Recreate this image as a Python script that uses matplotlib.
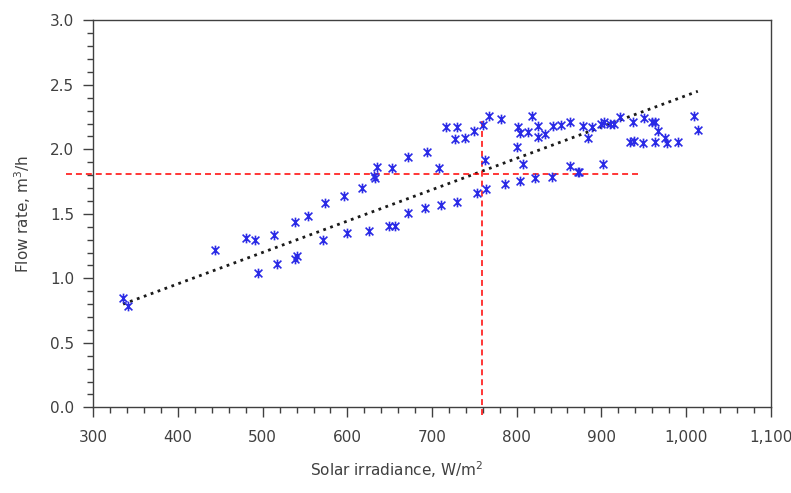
import matplotlib
matplotlib.use("Agg")
import matplotlib.pyplot as plt
from matplotlib.path import Path
from matplotlib.ticker import MultipleLocator, FuncFormatter

# ---- data ----
irradiance = [335, 341, 444, 480, 491, 494, 513, 517, 538, 538, 540, 554, 571, 573,
              596, 600, 617, 626, 631, 633, 635, 649, 656, 653, 672, 672, 692, 694,
              708, 710, 717, 730, 727, 739, 730, 750, 760, 763, 753, 764, 767, 781,
              818, 801, 804, 813, 825, 825, 834, 843, 852, 863, 878, 884, 889, 900,
              903, 910, 915, 922, 800, 808, 786, 804, 822, 842, 863, 872, 874, 902,
              938, 951, 960, 964, 967, 934, 939, 949, 963, 975, 978, 991, 1010, 1014]
flow_rate = [0.85, 0.785, 1.22, 1.315, 1.30, 1.045, 1.335, 1.11, 1.44, 1.15, 1.175, 1.485,
             1.30, 1.58, 1.64, 1.355, 1.70, 1.37, 1.79, 1.78, 1.865, 1.405, 1.405, 1.857,
             1.94, 1.505, 1.547, 1.98, 1.857, 1.568, 2.175, 2.175, 2.08, 2.085, 1.594,
             2.142, 2.188, 1.917, 1.659, 1.692, 2.26, 2.235, 2.26, 2.175, 2.13, 2.132,
             2.183, 2.098, 2.116, 2.183, 2.185, 2.208, 2.183, 2.085, 2.175, 2.20, 2.208,
             2.196, 2.20, 2.25, 2.02, 1.89, 1.73, 1.757, 1.775, 1.788, 1.871, 1.826,
             1.826, 1.886, 2.214, 2.24, 2.214, 2.209, 2.144, 2.054, 2.064, 2.046, 2.054,
             2.085, 2.046, 2.054, 2.26, 2.15]

trend_x = [335, 1014]
trend_y = [0.80, 2.45]

ref_x = 759
ref_y = 1.81
ref_hline_x = [268, 944]
ref_vline_y = [-0.06, 2.22]

x_ticks = [300, 400, 500, 600, 700, 800, 900, 1000, 1100]
y_ticks = [0.0, 0.5, 1.0, 1.5, 2.0, 2.5, 3.0]

# ---- figure ----
plt.rcParams['font.family'] = ['DejaVu Sans']
fig = plt.figure(figsize=(7.91, 4.93), dpi=100)
ax = fig.add_axes([0.1182, 0.1738, 0.856, 0.785])

txt = '#404040'

# asterisk marker: X plus vertical bar
verts = [(-1, -1), (1, 1), (-1, 1), (1, -1), (0, -1.25), (0, 1.25)]
codes = [Path.MOVETO, Path.LINETO, Path.MOVETO, Path.LINETO, Path.MOVETO, Path.LINETO]
star = Path(verts, codes)

ax.plot(irradiance, flow_rate, linestyle='none', marker=star, markersize=7,
        markeredgecolor='#2a2ae6', markerfacecolor='none', markeredgewidth=1.2, zorder=3)

ax.plot(trend_x, trend_y, linestyle=':', color='#1a1a1a', linewidth=2.0, zorder=2)

ax.plot(ref_hline_x, [ref_y, ref_y], color='#ff0000', linewidth=1.1,
        dashes=(3.9, 2.6), clip_on=False, zorder=2)
ax.plot([ref_x, ref_x], ref_vline_y, color='#ff0000', linewidth=1.1,
        dashes=(3.9, 2.6), clip_on=False, zorder=2)

ax.set_xlim(x_ticks[0], x_ticks[-1])
ax.set_ylim(y_ticks[0], y_ticks[-1])
ax.set_xticks(x_ticks)
ax.set_yticks(y_ticks)
ax.xaxis.set_minor_locator(MultipleLocator(20))
ax.yaxis.set_minor_locator(MultipleLocator(0.1))
ax.xaxis.set_major_formatter(FuncFormatter(lambda v, p: f'{v:,.0f}'))
ax.yaxis.set_major_formatter(FuncFormatter(lambda v, p: f'{v:.1f}'))

ax.tick_params(which='major', direction='out', length=7, width=1, color=txt,
               labelcolor=txt, labelsize=11, pad=7)
ax.tick_params(which='minor', direction='out', length=4.5, width=1, color=txt)
ax.tick_params(axis='x', which='major', pad=9)

for s in ax.spines.values():
    s.set_color(txt)
    s.set_linewidth(1)

ax.set_xlabel('Solar irradiance, W/m$^2$', fontsize=11, color=txt)
ax.set_ylabel('Flow rate, m$^3$/h', fontsize=11, color=txt)
ax.xaxis.set_label_coords(0.448, -0.135)
ax.yaxis.set_label_coords(-0.09, 0.5)

fig.savefig('out.png', dpi=100)
